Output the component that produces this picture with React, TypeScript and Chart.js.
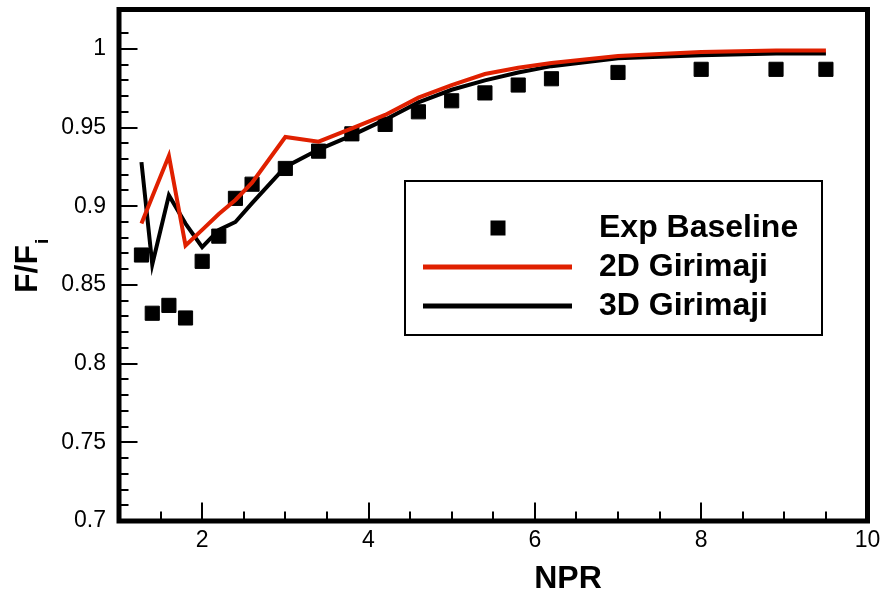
import React, { useEffect, useRef } from 'react';
import { Chart, registerables } from 'chart.js';

Chart.register(...registerables);

// ---- data ----
const nprValues = [1.27, 1.4, 1.6, 1.8, 2.0, 2.2, 2.4, 2.6, 3.0, 3.4, 3.8, 4.2, 4.6, 5.0, 5.4, 5.8, 6.2, 7.0, 8.0, 8.9, 9.5];
const expBaseline = [0.869, 0.832, 0.837, 0.829, 0.865, 0.881, 0.905, 0.914, 0.924, 0.935, 0.946, 0.952, 0.960, 0.967, 0.972, 0.977, 0.981, 0.985, 0.987, 0.987, 0.987];
const girimaji2D = [0.889, 0.906, 0.932, 0.875, 0.885, 0.895, 0.904, 0.915, 0.944, 0.941, 0.9495, 0.958, 0.969, 0.977, 0.984, 0.988, 0.991, 0.9955, 0.998, 0.999, 0.999];
const girimaji3D = [0.928, 0.863, 0.907, 0.889, 0.874, 0.885, 0.890, 0.902, 0.925, 0.936, 0.945, 0.955, 0.966, 0.974, 0.980, 0.985, 0.989, 0.994, 0.996, 0.997, 0.997];

const seriesLabels = ['Exp Baseline', '2D Girimaji', '3D Girimaji'];
const xTitle = 'NPR';
const yTitleMain = 'F/F';
const yTitleSub = 'i';

const RED = '#e02000';
const TITLE_FONT = 'bold 32px "Liberation Sans", Arial, sans-serif';

const toPoints = (ys: number[]) => nprValues.map((x, i) => ({ x, y: ys[i] }));

const decorPlugin = {
  id: 'decor',
  afterDatasetsDraw(chart: any) {
    const { ctx, chartArea: a, scales } = chart;
    const xs = scales.x;
    const ys = scales.y;
    ctx.save();

    // inward tick marks
    ctx.strokeStyle = '#000';
    ctx.lineWidth = 2;
    ctx.beginPath();
    xs.ticks.forEach((t: any) => {
      if (t.value <= xs.min + 1e-9 || t.value >= xs.max - 1e-9) return;
      const px = Math.round(xs.getPixelForValue(t.value));
      const len = t.label ? 16 : 7;
      ctx.moveTo(px, a.bottom);
      ctx.lineTo(px, a.bottom - 2.5 - len);
    });
    ys.ticks.forEach((t: any) => {
      if (t.value <= ys.min + 1e-9 || t.value >= ys.max - 1e-9) return;
      const py = Math.round(ys.getPixelForValue(t.value));
      const len = t.label ? 16 : 7;
      ctx.moveTo(a.left, py);
      ctx.lineTo(a.left + 2.5 + len, py);
    });
    ctx.stroke();

    // frame
    ctx.lineWidth = 5;
    ctx.strokeRect(a.left, a.top, a.right - a.left, a.bottom - a.top);

    // legend
    const lx = 405, ly = 181, lw = 417, lh = 154;
    ctx.fillStyle = '#fff';
    ctx.fillRect(lx, ly, lw, lh);
    ctx.lineWidth = 2;
    ctx.strokeStyle = '#000';
    ctx.strokeRect(lx, ly, lw, lh);
    const rows = [228, 267, 306];
    chart.data.datasets.forEach((ds: any, i: number) => {
      const y = rows[i];
      if (!ds.showLine) {
        ctx.fillStyle = ds.backgroundColor;
        ctx.fillRect(498 - 7.5, y - 7.5, 15, 15);
      } else {
        ctx.strokeStyle = ds.borderColor;
        ctx.lineWidth = 5;
        ctx.beginPath();
        ctx.moveTo(423, y);
        ctx.lineTo(572, y);
        ctx.stroke();
      }
      ctx.fillStyle = '#000';
      ctx.font = TITLE_FONT;
      ctx.textAlign = 'left';
      ctx.textBaseline = 'middle';
      ctx.fillText(ds.label, 599, y);
    });

    // x title
    ctx.fillStyle = '#000';
    ctx.font = TITLE_FONT;
    ctx.textAlign = 'center';
    ctx.textBaseline = 'alphabetic';
    ctx.fillText(xTitle, 568, 588);

    // y title with subscript
    ctx.save();
    ctx.translate(37, 293);
    ctx.rotate(-Math.PI / 2);
    ctx.textAlign = 'left';
    ctx.textBaseline = 'alphabetic';
    ctx.font = TITLE_FONT;
    ctx.fillText(yTitleMain, 0, 0);
    const w = ctx.measureText(yTitleMain).width;
    ctx.font = 'bold 19px "Liberation Sans", Arial, sans-serif';
    ctx.fillText(yTitleSub, w + 1, 11);
    ctx.restore();

    ctx.restore();
  },
};

export default function App() {
  const canvasRef = useRef<HTMLCanvasElement | null>(null);

  useEffect(() => {
    if (!canvasRef.current) return;
    const tickFont = { family: '"Liberation Sans", Arial, sans-serif', size: 23, weight: 'normal' as const };
    const chart = new Chart(canvasRef.current, {
      type: 'scatter',
      data: {
        datasets: [
          {
            label: seriesLabels[0],
            data: toPoints(expBaseline),
            showLine: false,
            pointStyle: 'rect',
            pointRadius: 10,
            pointHoverRadius: 10,
            backgroundColor: '#000',
            borderColor: '#000',
            borderWidth: 1,
            order: 3,
          },
          {
            label: seriesLabels[1],
            data: toPoints(girimaji2D),
            showLine: true,
            borderColor: RED,
            backgroundColor: RED,
            borderWidth: 4,
            pointRadius: 0,
            tension: 0,
            order: 1,
          },
          {
            label: seriesLabels[2],
            data: toPoints(girimaji3D),
            showLine: true,
            borderColor: '#000',
            backgroundColor: '#000',
            borderWidth: 4,
            pointRadius: 0,
            tension: 0,
            order: 2,
          },
        ],
      },
      options: {
        animation: false,
        responsive: false,
        events: [],
        layout: { padding: { left: 0, top: 9.5, right: 13.5, bottom: 0 }, autoPadding: false },
        plugins: { legend: { display: false }, tooltip: { enabled: false }, title: { display: false } },
        scales: {
          x: {
            type: 'linear',
            min: 1,
            max: 10,
            grid: { display: false, drawTicks: false },
            border: { display: false },
            title: { display: false },
            ticks: {
              stepSize: 0.5,
              autoSkip: false,
              maxRotation: 0,
              padding: 6,
              color: '#000',
              font: tickFont,
              callback: (v: any) => {
                const n = Number(v);
                return Math.abs(n % 2) < 1e-9 ? String(n) : '';
              },
            },
            afterFit: (s: any) => {
              s.height = 73;
              s.paddingLeft = 0;
              s.paddingRight = 0;
            },
          },
          y: {
            type: 'linear',
            min: 0.7,
            max: 1.025,
            grid: { display: false, drawTicks: false },
            border: { display: false },
            title: { display: false },
            ticks: {
              stepSize: 0.01,
              maxTicksLimit: 200,
              autoSkip: false,
              padding: 13,
              color: '#000',
              font: tickFont,
              callback: (v: any) => {
                const n = Number(v);
                const k = Math.round(n * 100);
                if (Math.abs(n * 100 - k) > 1e-6) return '';
                return k % 5 === 0 ? String(k / 100) : '';
              },
            },
            afterFit: (s: any) => {
              s.width = 119;
              s.paddingTop = 0;
              s.paddingBottom = 0;
            },
          },
        },
      },
      plugins: [decorPlugin],
    });
    return () => chart.destroy();
  }, []);

  return (
    <div style={{ position: 'fixed', left: 0, top: 0, width: 881, height: 594, background: '#fff' }}>
      <canvas ref={canvasRef} width={881} height={594} style={{ display: 'block' }} />
    </div>
  );
}
